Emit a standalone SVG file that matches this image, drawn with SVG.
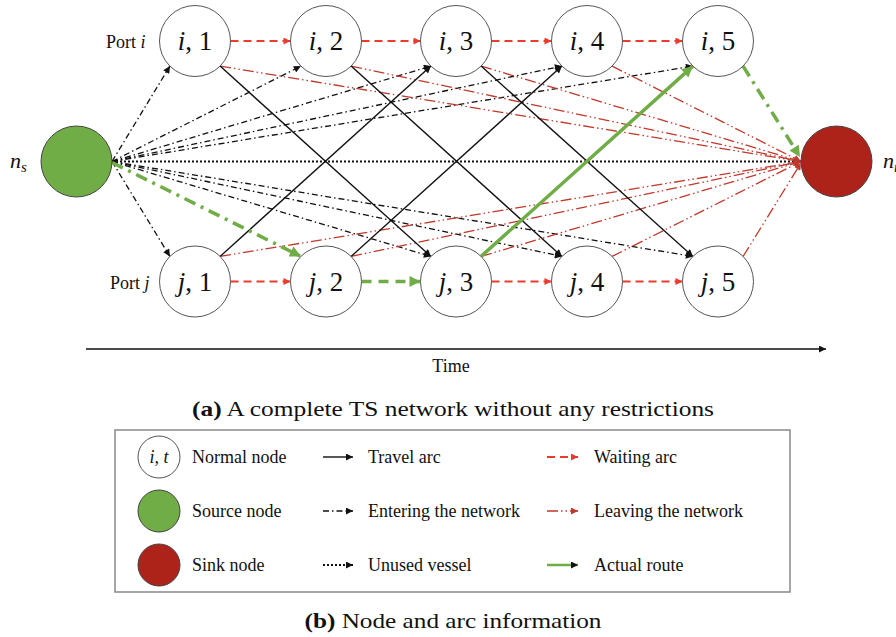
<svg xmlns="http://www.w3.org/2000/svg" width="896" height="637" viewBox="0 0 896 637">
  <defs>
    <style>
      text { font-family: "Liberation Serif", "Times New Roman", serif; fill: #111; }
      .node { fill: #fff; stroke: #555; stroke-width: 1; }
      .src { fill: #70ad47; stroke: #444; stroke-width: 1; }
      .snk { fill: #ad2219; stroke: #444; stroke-width: 1; }
      .lbl { font-size: 27px; text-anchor: middle; }
      .it { font-style: italic; }
      .travel { stroke: #111; stroke-width: 1.4; fill: none; marker-end: url(#ahK); }
      .enter { stroke: #111; stroke-width: 1.3; fill: none; stroke-dasharray: 6 3 1.5 3; marker-end: url(#ahK); }
      .leave { stroke: #c0392b; stroke-width: 1.3; fill: none; stroke-dasharray: 11 3 1.5 3 1.5 3; marker-end: url(#ahD); }
      .wait { stroke: #ec3a2c; stroke-width: 2; fill: none; stroke-dasharray: 8 5; marker-end: url(#ahR); }
      .unused { stroke: #111; stroke-width: 2; fill: none; stroke-dasharray: 2 2; marker-end: url(#ahK); }
      .route { stroke: #70ad47; stroke-width: 3.5; fill: none; marker-end: url(#ahG); }
      .route-dd { stroke-dasharray: 12 6 3 6; }
      .route-d { stroke-dasharray: 10 7; }
      .leg { font-size: 18px; }
      .cap { font-size: 21px; text-anchor: middle; }
    </style>
    <marker id="ahK" viewBox="0 0 10 10" refX="10" refY="5" markerWidth="8" markerHeight="7" markerUnits="userSpaceOnUse" orient="auto">
      <path d="M0,0 L10,5 L0,10 z" fill="#111"/>
    </marker>
    <marker id="ahR" viewBox="0 0 10 10" refX="10" refY="5" markerWidth="8" markerHeight="7" markerUnits="userSpaceOnUse" orient="auto">
      <path d="M0,0 L10,5 L0,10 z" fill="#ec3a2c"/>
    </marker>
    <marker id="ahD" viewBox="0 0 10 10" refX="10" refY="5" markerWidth="8" markerHeight="7" markerUnits="userSpaceOnUse" orient="auto">
      <path d="M0,0 L10,5 L0,10 z" fill="#c0392b"/>
    </marker>
    <marker id="ahG" viewBox="0 0 10 10" refX="10" refY="5" markerWidth="13" markerHeight="11" markerUnits="userSpaceOnUse" orient="auto">
      <path d="M0,0 L10,5 L0,10 z" fill="#70ad47"/>
    </marker>
  </defs>

  <rect width="896" height="637" fill="#fff"/>

  <!-- arcs of the time-space network -->
  <g id="connectors">
    <!-- unused vessel -->
    <line class="unused" x1="112" y1="161.5" x2="801" y2="161.5"/>

    <!-- entering the network -->
    <line class="enter" x1="112" y1="161.5" x2="169.9" y2="66.1"/>
    <line class="enter" x1="112" y1="161.5" x2="300.9" y2="66.1"/>
    <line class="enter" x1="112" y1="161.5" x2="430.9" y2="66.1"/>
    <line class="enter" x1="112" y1="161.5" x2="561.9" y2="66.1"/>
    <line class="enter" x1="112" y1="161.5" x2="692.9" y2="66.1"/>
    <line class="enter" x1="112" y1="161.5" x2="169.9" y2="256.4"/>
    <line class="enter" x1="112" y1="161.5" x2="430.9" y2="256.4"/>
    <line class="enter" x1="112" y1="161.5" x2="561.9" y2="256.4"/>
    <line class="enter" x1="112" y1="161.5" x2="692.9" y2="256.4"/>

    <!-- leaving the network -->
    <line class="leave" x1="220.1" y1="66.1" x2="801" y2="161.5"/>
    <line class="leave" x1="351.1" y1="66.1" x2="801" y2="161.5"/>
    <line class="leave" x1="481.1" y1="66.1" x2="801" y2="161.5"/>
    <line class="leave" x1="612.1" y1="66.1" x2="801" y2="161.5"/>
    <line class="leave" x1="220.1" y1="256.4" x2="801" y2="161.5"/>
    <line class="leave" x1="351.1" y1="256.4" x2="801" y2="161.5"/>
    <line class="leave" x1="481.1" y1="256.4" x2="801" y2="161.5"/>
    <line class="leave" x1="612.1" y1="256.4" x2="801" y2="161.5"/>
    <line class="leave" x1="743.1" y1="256.4" x2="801" y2="163"/>

    <!-- travel arcs -->
    <line class="travel" x1="220.1" y1="66.1" x2="430.9" y2="256.4"/>
    <line class="travel" x1="351.1" y1="66.1" x2="561.9" y2="256.4"/>
    <line class="travel" x1="481.1" y1="66.1" x2="692.9" y2="256.4"/>
    <line class="travel" x1="220.1" y1="256.4" x2="430.9" y2="66.1"/>
    <line class="travel" x1="351.1" y1="256.4" x2="561.9" y2="66.1"/>

    <!-- waiting arcs -->
    <line class="wait" x1="230.5" y1="41" x2="290.5" y2="41"/>
    <line class="wait" x1="361.5" y1="41" x2="420.5" y2="41"/>
    <line class="wait" x1="491.5" y1="41" x2="551.5" y2="41"/>
    <line class="wait" x1="622.5" y1="41" x2="682.5" y2="41"/>
    <line class="wait" x1="230.5" y1="281.5" x2="290.5" y2="281.5"/>
    <line class="wait" x1="491.5" y1="281.5" x2="551.5" y2="281.5"/>
    <line class="wait" x1="622.5" y1="281.5" x2="682.5" y2="281.5"/>

    <!-- actual route -->
    <line class="route route-dd" x1="112" y1="162.5" x2="300.9" y2="256.4"/>
    <line class="route route-d" x1="361.5" y1="281.5" x2="420.5" y2="281.5"/>
    <line class="route" x1="481.1" y1="256.4" x2="692.9" y2="66.1"/>
    <line class="route route-dd" x1="743.1" y1="66.1" x2="800" y2="157"/>

    <!-- time axis -->
    <line x1="86" y1="349" x2="826" y2="349" stroke="#111" stroke-width="1.5" marker-end="url(#ahK)"/>
  </g>

  <!-- source and sink -->
  <g id="n-s">
    <circle class="src" cx="76.5" cy="161.5" r="35.5"/>
    <text x="10" y="168" font-size="22" class="it">n<tspan font-size="15" dy="4">s</tspan></text>
  </g>
  <g id="n-t">
    <circle class="snk" cx="836.5" cy="161.5" r="35.5"/>
    <text x="883" y="168" font-size="22" class="it">n<tspan font-size="15" dy="4">t</tspan></text>
  </g>

  <!-- port i -->
  <text x="106" y="48" font-size="18">Port <tspan class="it">i</tspan></text>
  <g id="i1"><circle class="node" cx="195" cy="41" r="35.5"/><text class="lbl" x="195" y="50"><tspan class="it">i</tspan>, 1</text></g>
  <g id="i2"><circle class="node" cx="326" cy="41" r="35.5"/><text class="lbl" x="326" y="50"><tspan class="it">i</tspan>, 2</text></g>
  <g id="i3"><circle class="node" cx="456" cy="41" r="35.5"/><text class="lbl" x="456" y="50"><tspan class="it">i</tspan>, 3</text></g>
  <g id="i4"><circle class="node" cx="587" cy="41" r="35.5"/><text class="lbl" x="587" y="50"><tspan class="it">i</tspan>, 4</text></g>
  <g id="i5"><circle class="node" cx="718" cy="41" r="35.5"/><text class="lbl" x="718" y="50"><tspan class="it">i</tspan>, 5</text></g>

  <!-- port j -->
  <text x="110" y="289" font-size="18">Port <tspan class="it">j</tspan></text>
  <g id="j1"><circle class="node" cx="195" cy="281.5" r="35.5"/><text class="lbl" x="195" y="290.5"><tspan class="it">j</tspan>, 1</text></g>
  <g id="j2"><circle class="node" cx="326" cy="281.5" r="35.5"/><text class="lbl" x="326" y="290.5"><tspan class="it">j</tspan>, 2</text></g>
  <g id="j3"><circle class="node" cx="456" cy="281.5" r="35.5"/><text class="lbl" x="456" y="290.5"><tspan class="it">j</tspan>, 3</text></g>
  <g id="j4"><circle class="node" cx="587" cy="281.5" r="35.5"/><text class="lbl" x="587" y="290.5"><tspan class="it">j</tspan>, 4</text></g>
  <g id="j5"><circle class="node" cx="718" cy="281.5" r="35.5"/><text class="lbl" x="718" y="290.5"><tspan class="it">j</tspan>, 5</text></g>

  <text x="451" y="372" font-size="18" text-anchor="middle">Time</text>

  <text class="cap" x="453" y="416" textLength="522" lengthAdjust="spacingAndGlyphs"><tspan font-weight="bold">(a)</tspan> A complete TS network without any restrictions</text>

  <!-- legend -->
  <g id="legend">
    <rect x="115" y="430" width="675" height="162" fill="#fff" stroke="#888" stroke-width="1.5"/>
    <circle class="node" cx="159" cy="457" r="21"/>
    <text x="159" y="463" font-size="18" text-anchor="middle" class="it">i, t</text>
    <circle class="src" cx="159" cy="511" r="21"/>
    <circle class="snk" cx="159" cy="565" r="21"/>
    <text class="leg" x="192" y="463">Normal node</text>
    <text class="leg" x="192" y="517">Source node</text>
    <text class="leg" x="192" y="571">Sink node</text>

    <line class="travel" x1="323" y1="457" x2="353" y2="457"/>
    <line class="enter" x1="323" y1="511" x2="353" y2="511"/>
    <line class="unused" x1="323" y1="565" x2="353" y2="565" stroke-width="1.3" stroke-dasharray="1.5 1.5"/>
    <text class="leg" x="368" y="463">Travel arc</text>
    <text class="leg" x="368" y="517">Entering the network</text>
    <text class="leg" x="368" y="571">Unused vessel</text>

    <line class="wait" x1="547" y1="457" x2="578" y2="457" stroke-width="1.5" stroke-dasharray="6 4"/>
    <line class="leave" x1="547" y1="511" x2="578" y2="511" stroke-dasharray="12 4 1.5 4"/>
    <line x1="547" y1="565" x2="578" y2="565" stroke="#70ad47" stroke-width="2.5" marker-end="url(#ahK)"/>
    <text class="leg" x="594" y="463">Waiting arc</text>
    <text class="leg" x="594" y="517">Leaving the network</text>
    <text class="leg" x="594" y="571">Actual route</text>
  </g>

  <text class="cap" x="453" y="628" textLength="297" lengthAdjust="spacingAndGlyphs"><tspan font-weight="bold">(b)</tspan> Node and arc information</text>
</svg>
